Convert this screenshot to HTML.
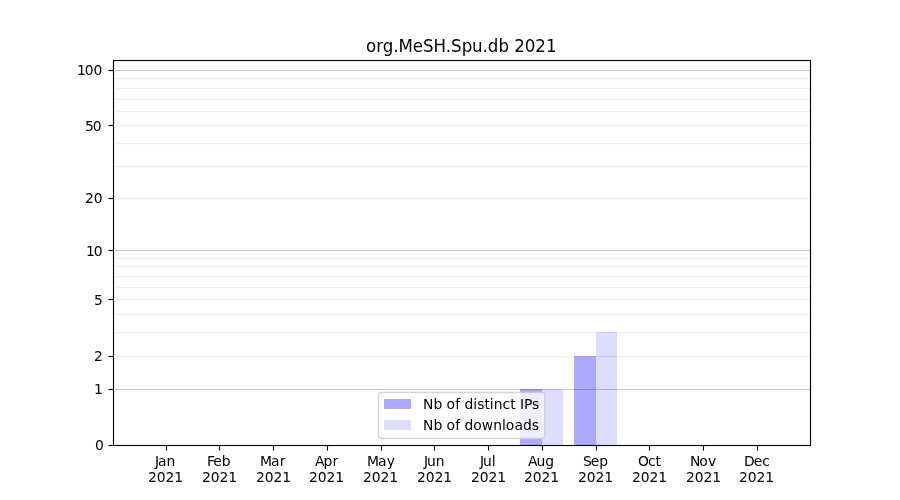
<!DOCTYPE html>
<html><head><meta charset="utf-8"><title>org.MeSH.Spu.db 2021</title>
<style>html,body{margin:0;padding:0;background:#fff;overflow:hidden}svg{display:block}text{font-family:"DejaVu Sans","Liberation Sans",sans-serif;fill:#000;white-space:pre}</style></head><body>
<svg width="900" height="500" viewBox="0 0 900 500">
<rect width="900" height="500" fill="#fff"/>
<g shape-rendering="crispEdges">
<rect x="520" y="389" width="22" height="56" fill="#aaaaff"/>
<rect x="542" y="389" width="21" height="56" fill="#ddddff"/>
<rect x="574" y="356" width="22" height="89" fill="#aaaaff"/>
<rect x="596" y="332" width="21" height="113" fill="#ddddff"/>
</g>
<g fill="#000">
<rect x="113" y="388.945" width="698" height="1.11" fill-opacity="0.2"/>
<rect x="113" y="355.945" width="698" height="1.11" fill-opacity="0.07"/>
<rect x="113" y="331.945" width="698" height="1.11" fill-opacity="0.07"/>
<rect x="113" y="313.945" width="698" height="1.11" fill-opacity="0.07"/>
<rect x="113" y="298.945" width="698" height="1.11" fill-opacity="0.07"/>
<rect x="113" y="286.945" width="698" height="1.11" fill-opacity="0.07"/>
<rect x="113" y="275.945" width="698" height="1.11" fill-opacity="0.07"/>
<rect x="113" y="265.945" width="698" height="1.11" fill-opacity="0.07"/>
<rect x="113" y="257.945" width="698" height="1.11" fill-opacity="0.07"/>
<rect x="113" y="249.945" width="698" height="1.11" fill-opacity="0.2"/>
<rect x="113" y="197.945" width="698" height="1.11" fill-opacity="0.07"/>
<rect x="113" y="165.945" width="698" height="1.11" fill-opacity="0.07"/>
<rect x="113" y="142.945" width="698" height="1.11" fill-opacity="0.07"/>
<rect x="113" y="124.945" width="698" height="1.11" fill-opacity="0.07"/>
<rect x="113" y="110.945" width="698" height="1.11" fill-opacity="0.07"/>
<rect x="113" y="98.945" width="698" height="1.11" fill-opacity="0.07"/>
<rect x="113" y="87.945" width="698" height="1.11" fill-opacity="0.07"/>
<rect x="113" y="77.945" width="698" height="1.11" fill-opacity="0.07"/>
<rect x="113" y="69.945" width="698" height="1.11" fill-opacity="0.2"/>
</g>
<g stroke="#000" stroke-width="1.11">
<line x1="108.5" x2="113.5" y1="445.5" y2="445.5"/>
<line x1="108.5" x2="113.5" y1="389.5" y2="389.5"/>
<line x1="108.5" x2="113.5" y1="356.5" y2="356.5"/>
<line x1="108.5" x2="113.5" y1="299.5" y2="299.5"/>
<line x1="108.5" x2="113.5" y1="250.5" y2="250.5"/>
<line x1="108.5" x2="113.5" y1="198.5" y2="198.5"/>
<line x1="108.5" x2="113.5" y1="125.5" y2="125.5"/>
<line x1="108.5" x2="113.5" y1="70.5" y2="70.5"/>
<line x1="166.5" x2="166.5" y1="445.5" y2="450.5"/>
<line x1="219.5" x2="219.5" y1="445.5" y2="450.5"/>
<line x1="273.5" x2="273.5" y1="445.5" y2="450.5"/>
<line x1="327.5" x2="327.5" y1="445.5" y2="450.5"/>
<line x1="381.5" x2="381.5" y1="445.5" y2="450.5"/>
<line x1="434.5" x2="434.5" y1="445.5" y2="450.5"/>
<line x1="488.5" x2="488.5" y1="445.5" y2="450.5"/>
<line x1="542.5" x2="542.5" y1="445.5" y2="450.5"/>
<line x1="596.5" x2="596.5" y1="445.5" y2="450.5"/>
<line x1="649.5" x2="649.5" y1="445.5" y2="450.5"/>
<line x1="703.5" x2="703.5" y1="445.5" y2="450.5"/>
<line x1="757.5" x2="757.5" y1="445.5" y2="450.5"/>
</g>
<rect x="113.5" y="60.5" width="697.0" height="385.0" fill="none" stroke="#000" stroke-width="1.11"/>
<rect x="378.5" y="392.5" width="166" height="46" rx="2.78" ry="2.78" fill="#fff" fill-opacity="0.8" stroke="#ccc" stroke-opacity="0.8" stroke-width="1.39"/>
<rect x="384" y="399" width="27" height="10" fill="#aaaaff" shape-rendering="crispEdges"/>
<rect x="384" y="420" width="27" height="10" fill="#ddddff" shape-rendering="crispEdges"/>
<text x="95.01" y="450" font-size="13.89">0</text>
<text x="93.89" y="394" font-size="13.89">1</text>
<text x="93.97" y="361" font-size="13.89">2</text>
<text x="93.98" y="305" font-size="13.89">5</text>
<text x="86.12 93.70" y="256" font-size="13.89">10</text>
<text x="84.98 93.79" y="203" font-size="13.89">20</text>
<text x="85.09 92.67" y="131" font-size="13.89">50</text>
<text x="77.00 84.83 93.40" y="75" font-size="13.89">100</text>
<text x="155.02 157.90 166.45" y="466" font-size="13.89">Jan</text>
<text x="147.99 156.81 165.38 174.21" y="482" font-size="13.89">2021</text>
<text x="207.00 213.35 221.75" y="466" font-size="13.89">Feb</text>
<text x="201.89 210.71 219.53 228.36" y="482" font-size="13.89">2021</text>
<text x="260.07 270.89 279.73" y="466" font-size="13.89">Mar</text>
<text x="255.93 264.84 273.50 282.16" y="482" font-size="13.89">2021</text>
<text x="315.12 323.43 332.56" y="466" font-size="13.89">Apr</text>
<text x="309.01 317.83 326.40 335.23" y="482" font-size="13.89">2021</text>
<text x="366.91 378.04 386.69" y="466" font-size="13.89">May</text>
<text x="362.94 371.86 380.52 389.18" y="482" font-size="13.89">2021</text>
<text x="423.91 426.94 435.67" y="466" font-size="13.89">Jun</text>
<text x="417.08 425.65 434.47 443.30" y="482" font-size="13.89">2021</text>
<text x="479.95 483.05 491.85" y="466" font-size="13.89">Jul</text>
<text x="471.11 479.68 488.50 497.33" y="482" font-size="13.89">2021</text>
<text x="527.91 536.53 545.21" y="466" font-size="13.89">Aug</text>
<text x="523.96 532.87 541.53 550.19" y="482" font-size="13.89">2021</text>
<text x="582.99 590.74 599.22" y="466" font-size="13.89">Sep</text>
<text x="577.88 586.70 595.52 604.35" y="482" font-size="13.89">2021</text>
<text x="638.12 647.95 655.51" y="466" font-size="13.89">Oct</text>
<text x="632.03 640.85 649.42 658.25" y="482" font-size="13.89">2021</text>
<text x="689.90 699.37 707.96" y="466" font-size="13.89">Nov</text>
<text x="685.99 694.81 703.38 712.21" y="482" font-size="13.89">2021</text>
<text x="743.98 753.73 762.34" y="466" font-size="13.89">Dec</text>
<text x="739.00 747.82 756.39 765.22" y="482" font-size="13.89">2021</text>
<text transform="translate(0,52) scale(1,1.07)" x="365.92 376.34 382.87 393.16 398.43 412.77 423.00 433.55 445.75 451.01 461.81 472.10 482.63 487.65 498.44 508.99 514.25 524.82 535.15 545.97" y="0" font-size="16.67">org.MeSH.Spu.db 2021</text>
<text x="423.10 433.48 442.27 446.44 455.18 460.07 464.48 473.29 477.13 484.62 489.81 493.66 502.46 510.34 515.52 519.93 524.02 531.90" y="409" font-size="13.89">Nb of distinct IPs</text>
<text x="422.95 433.62 442.21 446.40 455.18 460.10 464.55 473.14 481.66 493.30 502.12 505.76 514.53 523.08 531.67" y="430" font-size="13.89">Nb of downloads</text>
</svg></body></html>
